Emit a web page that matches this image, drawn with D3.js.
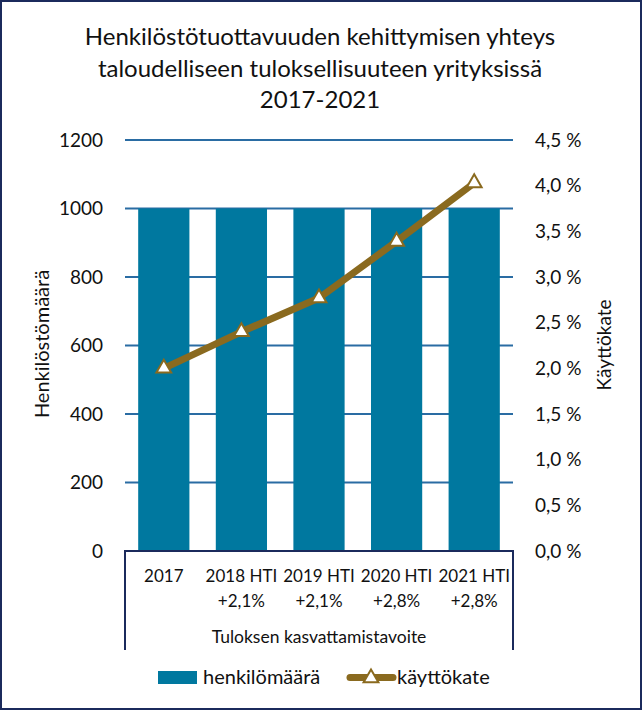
<!DOCTYPE html>
<html><head><meta charset="utf-8">
<script src="https://cdn.jsdelivr.net/npm/d3@7"></script>
<style>body{margin:0;background:#fff}svg{display:block}</style>
</head><body>
<script>
const categories = [["2017"], ["2018 HTI", "+2,1%"], ["2019 HTI", "+2,1%"], ["2020 HTI", "+2,8%"], ["2021 HTI", "+2,8%"]];
const henkilomaara = [1000, 1000, 1000, 1000, 1000];
const kayttokate = [2.0, 2.4, 2.77, 3.39, 4.03];
const leftTicks = [0, 200, 400, 600, 800, 1000, 1200];
const rightTicks = [0, 0.5, 1, 1.5, 2, 2.5, 3, 3.5, 4, 4.5];
const titleLines = ["Henkilöstötuottavuuden kehittymisen yhteys", "taloudelliseen tuloksellisuuteen yrityksissä", "2017-2021"];

(function () {
const W = 642, H = 710;
const FONT = "Lato, 'Open Sans', sans-serif";
const svg = d3.select("body").append("svg").attr("width", W).attr("height", H).style("font-family", FONT);
svg.append("rect").attr("x", 1).attr("y", 1).attr("width", W - 2).attr("height", H - 2)
  .attr("fill", "#fff").attr("stroke", "#1B2A5C").attr("stroke-width", 2);

const pL = 125, pR = 513, pT = 140, pB = 551;
const x = d3.scaleBand().domain(d3.range(categories.length)).range([pL, pR]).paddingInner(0.34).paddingOuter(0.17);
const yL = d3.scaleLinear().domain([0, 1200]).range([pB, pT]);
const yR = d3.scaleLinear().domain([0, 4.5]).range([pB, pT]);

svg.append("g").selectAll("text").data(titleLines).join("text")
  .attr("x", 320).attr("y", (d, i) => 45 + i * 31.5).attr("text-anchor", "middle")
  .attr("font-size", 24).attr("fill", "#111").text(d => d);

svg.append("g").selectAll("line").data(leftTicks.filter(d => d > 0)).join("line")
  .attr("x1", pL).attr("x2", pR).attr("y1", d => yL(d)).attr("y2", d => yL(d))
  .attr("stroke", "#2A6CA3").attr("stroke-width", 2);

svg.append("g").selectAll("rect").data(henkilomaara).join("rect")
  .attr("x", (d, i) => x(i)).attr("width", x.bandwidth())
  .attr("y", d => yL(d)).attr("height", d => yL(0) - yL(d)).attr("fill", "#00789F");

const la = svg.append("g").attr("transform", `translate(${pL},0)`)
  .call(d3.axisLeft(yL).tickValues(leftTicks).tickSize(0).tickPadding(22).tickFormat(d3.format("d")));
la.select(".domain").remove();
la.selectAll("text").attr("font-size", 19).attr("fill", "#111").attr("font-family", FONT);

const fmtR = d => d3.format(".1f")(d).replace(".", ",") + " %";
const ra = svg.append("g").attr("transform", `translate(${pR},0)`)
  .call(d3.axisRight(yR).tickValues(rightTicks).tickSize(0).tickPadding(22).tickFormat(fmtR));
ra.select(".domain").remove();
ra.selectAll("text").attr("font-size", 19).attr("fill", "#111").attr("font-family", FONT);

svg.append("path").attr("d", `M${pL},650 V${pB} H${pR} V650`)
  .attr("fill", "none").attr("stroke", "#1B2A5C").attr("stroke-width", 2);

const cg = svg.append("g");
categories.forEach((c, i) => {
  c.forEach((t, j) => {
    cg.append("text").attr("x", x(i) + x.bandwidth() / 2).attr("y", 582 + j * 25)
      .attr("text-anchor", "middle").attr("font-size", 17).attr("fill", "#111").text(t);
  });
});
svg.append("text").attr("x", (pL + pR) / 2).attr("y", 643).attr("text-anchor", "middle")
  .attr("font-size", 17.5).attr("fill", "#111").text("Tuloksen kasvattamistavoite");

svg.append("text").attr("transform", `translate(49,344) rotate(-90)`).attr("text-anchor", "middle")
  .attr("font-size", 20).attr("fill", "#111").text("Henkilöstömäärä");
svg.append("text").attr("transform", `translate(611,345) rotate(-90)`).attr("text-anchor", "middle")
  .attr("font-size", 19).attr("fill", "#111").text("Käyttökate");

const line = d3.line().x((d, i) => x(i) + x.bandwidth() / 2).y(d => yR(d));
svg.append("path").datum(kayttokate).attr("d", line).attr("fill", "none")
  .attr("stroke", "#8A6A1F").attr("stroke-width", 7).attr("stroke-linejoin", "round");
const tri = d3.symbol().type(d3.symbolTriangle).size(95);
svg.append("g").selectAll("path").data(kayttokate).join("path")
  .attr("transform", (d, i) => `translate(${x(i) + x.bandwidth() / 2},${yR(d)})`)
  .attr("d", tri).attr("fill", "#fff").attr("stroke", "#8A6A1F").attr("stroke-width", 2);

const lg = svg.append("g");
lg.append("rect").attr("x", 158).attr("y", 671).attr("width", 39).attr("height", 13).attr("fill", "#00789F");
lg.append("text").attr("x", 203).attr("y", 684).attr("font-size", 20).attr("fill", "#111").text("henkilömäärä");
lg.append("line").attr("x1", 350).attr("x2", 393).attr("y1", 677.5).attr("y2", 677.5)
  .attr("stroke", "#8A6A1F").attr("stroke-width", 7).attr("stroke-linecap", "round");
lg.append("path").attr("transform", "translate(371,678)").attr("d", tri)
  .attr("fill", "#fff").attr("stroke", "#8A6A1F").attr("stroke-width", 2);
lg.append("text").attr("x", 397).attr("y", 684).attr("font-size", 20).attr("fill", "#111").text("käyttökate");
})();
</script>
</body></html>
